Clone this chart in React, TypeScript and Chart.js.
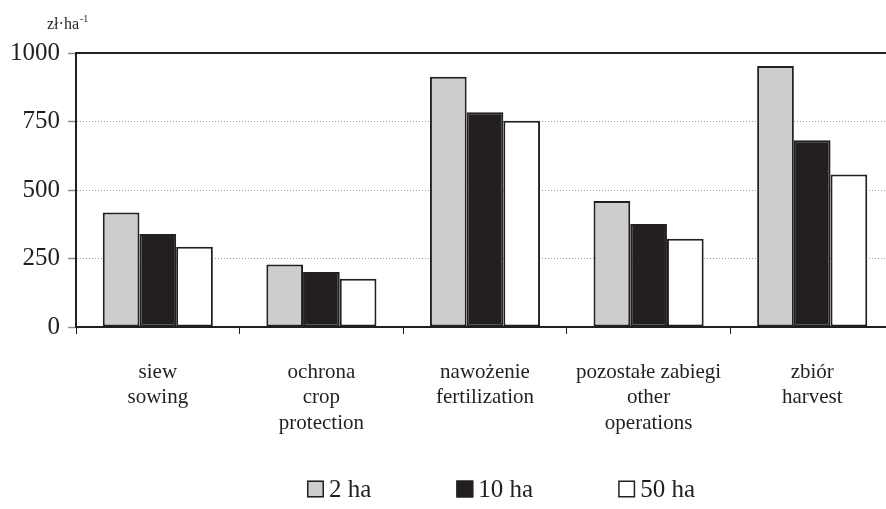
import React, { useEffect, useRef } from "react";
import { Chart, registerables } from "chart.js";

Chart.register(...registerables);

// Cost categories (Polish / English, one line per array entry)
const categories: string[][] = [
  ["siew", "sowing"],
  ["ochrona", "crop", "protection"],
  ["nawożenie", "fertilization"],
  ["pozostałe zabiegi", "other", "operations"],
  ["zbiór", "harvest"],
];

// Costs in zł per ha for each farm size
const farm2ha: number[] = [418, 228, 913, 460, 953];
const farm10ha: number[] = [339, 201, 784, 376, 682];
const farm50ha: number[] = [293, 176, 753, 322, 557];

const seriesLabels: string[] = ["2 ha", "10 ha", "50 ha"];
const yTicks: number[] = [0, 250, 500, 750, 1000];

const INK = "#231f20";
const FONT = "'Liberation Serif', 'Times New Roman', serif";

// Unit label above the value axis: zł·ha⁻¹
const unitLabel = {
  id: "unitLabel",
  afterDraw(chart: Chart) {
    const ctx = chart.ctx;
    ctx.save();
    ctx.fillStyle = INK;
    ctx.textBaseline = "alphabetic";
    ctx.textAlign = "left";
    ctx.font = `16px ${FONT}`;
    const base = "zł·ha";
    const x = 47;
    const y = 29;
    ctx.fillText(base, x, y);
    const w = ctx.measureText(base).width;
    ctx.font = `10px ${FONT}`;
    ctx.fillText("-1", x + w + 1, y - 7);
    ctx.restore();
  },
};

// Legend row along the bottom: swatch + series name
const bottomLegend = {
  id: "bottomLegend",
  afterDraw(chart: Chart) {
    const ctx = chart.ctx;
    const box = 17;
    const gapText = 5;
    const spacing = 85;
    const centerX = 501;
    const centerY = 489;
    ctx.save();
    ctx.font = `25px ${FONT}`;
    const items = chart.data.datasets.map((ds: any) => ({
      label: ds.label as string,
      fill: ds.backgroundColor as string,
      w: box + gapText + ctx.measureText(ds.label).width,
    }));
    const total =
      items.reduce((s, it) => s + it.w, 0) + spacing * (items.length - 1);
    let x = centerX - total / 2;
    ctx.textBaseline = "middle";
    ctx.textAlign = "left";
    for (const it of items) {
      ctx.fillStyle = it.fill;
      ctx.fillRect(x, centerY - box / 2, box, box);
      ctx.strokeStyle = INK;
      ctx.lineWidth = 1.5;
      ctx.strokeRect(x + 0.75, centerY - box / 2 + 0.75, box - 1.5, box - 1.5);
      ctx.fillStyle = INK;
      ctx.fillText(it.label, x + box + gapText, centerY + 1);
      x += it.w + spacing;
    }
    ctx.restore();
  },
};

export default function App() {
  const canvasRef = useRef<HTMLCanvasElement | null>(null);

  useEffect(() => {
    if (!canvasRef.current) return;
    Chart.defaults.font.family = FONT;
    Chart.defaults.color = INK;

    const barCommon = {
      borderColor: INK,
      borderWidth: 2,
      borderSkipped: false as const,
      categoryPercentage: 0.673,
      barPercentage: 1.0,
    };

    const chart = new Chart(canvasRef.current, {
      type: "bar",
      data: {
        labels: categories,
        datasets: [
          { label: seriesLabels[0], data: farm2ha, backgroundColor: "#cdcdcd", ...barCommon },
          { label: seriesLabels[1], data: farm10ha, backgroundColor: INK, ...barCommon },
          { label: seriesLabels[2], data: farm50ha, backgroundColor: "#ffffff", ...barCommon },
        ],
      },
      options: {
        responsive: false,
        animation: false,
        devicePixelRatio: 1,
        layout: { padding: { top: 53, right: 6, left: 0, bottom: 0 } },
        plugins: {
          legend: { display: false },
          tooltip: { enabled: false },
          title: { display: false },
        },
        scales: {
          x: {
            type: "category",
            position: "bottom",
            offset: true,
            grid: {
              offset: true,
              drawOnChartArea: false,
              drawTicks: true,
              tickLength: 7,
              color: INK,
              lineWidth: 1,
            },
            border: { display: true, color: INK, width: 2 },
            ticks: {
              padding: 26,
              maxRotation: 0,
              autoSkip: false,
              color: INK,
              font: { size: 21, family: FONT, lineHeight: 1.2 },
            },
            afterFit: (scale: any) => {
              scale.height = 182;
            },
          },
          xTop: {
            type: "category",
            position: "top",
            grid: { display: false, drawTicks: false },
            ticks: { display: false },
            border: { display: true, color: INK, width: 2 },
            afterFit: (scale: any) => {
              scale.height = 0;
            },
          },
          y: {
            type: "linear",
            min: yTicks[0],
            max: yTicks[yTicks.length - 1],
            afterBuildTicks: (scale: any) => {
              scale.ticks = yTicks.map((v) => ({ value: v }));
            },
            grid: {
              color: "#9a9a9a",
              lineWidth: 1,
              drawTicks: true,
              tickLength: 8,
              tickColor: "#8c8c8c",
              tickWidth: 1.5,
              tickBorderDash: [],
            },
            border: { display: true, color: INK, width: 2, dash: [1, 2] },
            ticks: {
              padding: 8,
              color: INK,
              font: { size: 25, family: FONT },
              callback: (value: any) => String(value),
            },
            afterFit: (scale: any) => {
              scale.width = 76;
            },
          },
        },
      },
      plugins: [unitLabel, bottomLegend],
    });

    return () => chart.destroy();
  }, []);

  return (
    <div
      style={{
        position: "fixed",
        left: 0,
        top: 0,
        width: 886,
        height: 509,
        overflow: "hidden",
        background: "#ffffff",
      }}
    >
      <canvas ref={canvasRef} width={900} height={509} style={{ display: "block" }} />
    </div>
  );
}
